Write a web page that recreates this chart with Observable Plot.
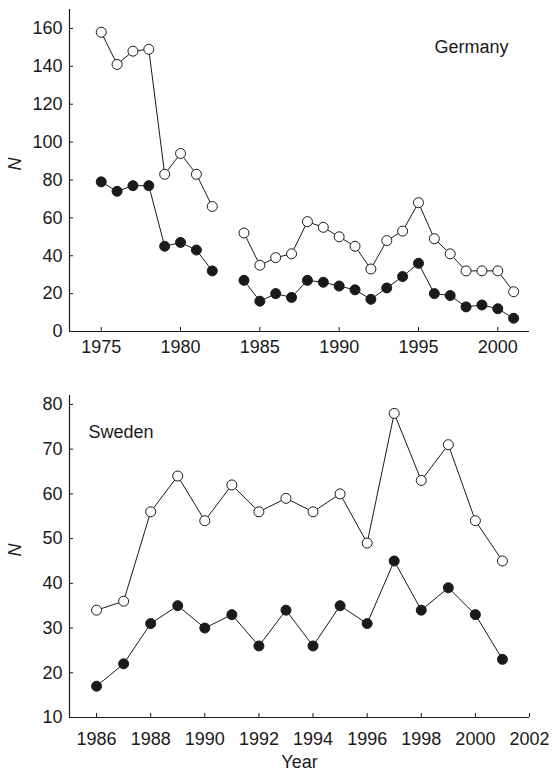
<!DOCTYPE html>
<html><head><meta charset="utf-8">
<script src="https://cdn.jsdelivr.net/npm/d3@7"></script>
<script src="https://cdn.jsdelivr.net/npm/@observablehq/plot@0.6"></script>
<style>
body{margin:0;background:#fff;}
#chart svg{display:block;}
</style>
</head><body><div id="chart"></div>
<script>
// Germany
const deYears  = [1975,1976,1977,1978,1979,1980,1981,1982,1983,1984,1985,1986,1987,1988,1989,1990,1991,1992,1993,1994,1995,1996,1997,1998,1999,2000,2001];
const deOpen   = [158,141,148,149,83,94,83,66,null,52,35,39,41,58,55,50,45,33,48,53,68,49,41,32,32,32,21];
const deFilled = [79,74,77,77,45,47,43,32,null,27,16,20,18,27,26,24,22,17,23,29,36,20,19,13,14,12,7];
const deXTicks = [1975,1980,1985,1990,1995,2000];
const deYTicks = [0,20,40,60,80,100,120,140,160];
const deXDomain = [1973,2002];
const deYDomain = [0,170];
// Sweden
const seYears  = [1986,1987,1988,1989,1990,1991,1992,1993,1994,1995,1996,1997,1998,1999,2000,2001];
const seOpen   = [34,36,56,64,54,62,56,59,56,60,49,78,63,71,54,45];
const seFilled = [17,22,31,35,30,33,26,34,26,35,31,45,34,39,33,23];
const seXTicks = [1986,1988,1990,1992,1994,1996,1998,2000,2002];
const seYTicks = [10,20,30,40,50,60,70,80];
const seXDomain = [1985,2002];
const seYDomain = [10,82];

const FONT = "'Liberation Sans', Arial, Helvetica, sans-serif";
const INK = "#1a1a1a";
const FS = 18;

function rows(years, vals){ return years.map((yr,i)=>({year: yr, v: vals[i]})); }

function panel(o){
  const open = rows(o.years, o.open), filled = rows(o.years, o.filled);
  return Plot.plot({
    width: 553, height: o.height,
    marginLeft: 69, marginRight: 24, marginTop: o.mt, marginBottom: o.mb,
    style: {fontFamily: FONT, fontSize: FS + "px", color: INK, background: "#fff"},
    x: {domain: o.xDomain, axis: null},
    y: {domain: o.yDomain, axis: null},
    marks: [
      Plot.ruleY([o.yDomain[0]], {stroke: INK, strokeWidth: 1.2}),
      Plot.ruleX([o.xDomain[0]], {stroke: INK, strokeWidth: 1.2}),
      Plot.axisX({ticks: o.xTicks, tickFormat: d => String(d), tickSize: 4, dy: -4, tickPadding: o.xpad, fontSize: FS, stroke: INK, fill: INK, label: null}),
      Plot.axisY({ticks: o.yTicks, tickSize: 4, dx: 4, tickPadding: 7, fontSize: FS, stroke: INK, fill: INK, label: null}),
      Plot.line(open, {x: "year", y: "v", stroke: INK, strokeWidth: 1}),
      Plot.line(filled, {x: "year", y: "v", stroke: INK, strokeWidth: 1}),
      Plot.dot(open.filter(d => d.v != null), {x: "year", y: "v", r: 5, fill: "#fff", stroke: INK, strokeWidth: 1}),
      Plot.dot(filled.filter(d => d.v != null), {x: "year", y: "v", r: 5, fill: INK, stroke: INK, strokeWidth: 1}),
      Plot.text(["N"], {frameAnchor: "left", dx: -54, rotate: -90, fontStyle: "italic", fontSize: FS, fill: INK}),
      Plot.text([o.name], o.nameOpts),
      ...(o.xlabel ? [Plot.text([o.xlabel], {frameAnchor: "bottom", dy: 50, fontSize: FS, fill: INK})] : [])
    ]
  });
}

const topPanel = panel({
  years: deYears, open: deOpen, filled: deFilled,
  xDomain: deXDomain, yDomain: deYDomain, xTicks: deXTicks, yTicks: deYTicks,
  height: 372, mt: 9, mb: 41, xpad: 9,
  name: "Germany",
  nameOpts: {frameAnchor: "top-right", textAnchor: "end", dx: -21, dy: 31, fontSize: FS, fill: INK}
});
const bottomPanel = panel({
  years: seYears, open: seOpen, filled: seFilled,
  xDomain: seXDomain, yDomain: seYDomain, xTicks: seXTicks, yTicks: seYTicks,
  height: 401, mt: 23, mb: 56, xpad: 15,
  name: "Sweden",
  nameOpts: {frameAnchor: "top-left", textAnchor: "start", dx: 19, dy: 30, fontSize: FS, fill: INK},
  xlabel: "Year"
});
document.getElementById("chart").append(topPanel, bottomPanel);
</script>
</body></html>
